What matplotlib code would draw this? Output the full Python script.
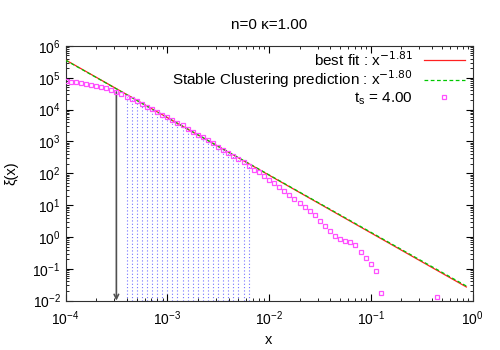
import numpy as np
import matplotlib
matplotlib.use("Agg")
import matplotlib.pyplot as plt

# ---- data ----
title = "n=0 \u03ba=1.00"
# log10 of x for the measured points (20 points per decade)
log_x = [-4 + i / 20 for i in range(63)] + [-4 + 73 / 20]
# log10 of xi(x) at those points
log_xi = [4.909, 4.877, 4.858, 4.836, 4.814, 4.783, 4.751, 4.711, 4.670, 4.601,
          4.553, 4.481, 4.406, 4.343, 4.270, 4.176, 4.091, 4.019, 3.925, 3.840,
          3.777, 3.679, 3.585, 3.500, 3.399, 3.305, 3.211, 3.129, 3.044, 2.959,
          2.833, 2.739, 2.645, 2.557, 2.447, 2.346, 2.242, 2.116, 2.031, 1.925,
          1.802, 1.682, 1.560, 1.440, 1.314, 1.189, 1.063, 0.937, 0.811, 0.679,
          0.503, 0.333, 0.182, 0.035, -0.075, -0.142, -0.164, -0.264, -0.487, -0.676,
          -0.846, -1.069, -1.752, -1.884]
fit_slope = -1.81
fit_logamp = -1.68
sc_slope = -1.80
sc_logamp = -1.65
fit_xrange = [1e-4, 0.87]
fit_first, fit_last = 12, 36   # indices of the points inside the fit range
arrow_index = 10               # point marked by the arrow

x = 10 ** np.array(log_x)
xi = 10 ** np.array(log_xi)

fig = plt.figure(figsize=(5, 3.5), dpi=100)
plt.rcParams['font.family'] = ['Liberation Sans', 'DejaVu Sans']
ax = fig.add_axes([0.131, 0.141, 0.814, 0.728])
ax.set_xscale('log')
ax.set_yscale('log')
ax.set_xlim(1e-4, 1)
ax.set_ylim(1e-2, 1e6)

xf = np.array(fit_xrange)
ax.plot(xf, 10 ** fit_logamp * xf ** fit_slope, color='#ff2020', lw=0.9,
        label=r'best fit : x$^{-1.81}$', zorder=3)
ax.plot(xf, 10 ** sc_logamp * xf ** sc_slope, color='#00c800', lw=0.9,
        ls=(0, (3, 2)), label=r'Stable Clustering prediction : x$^{-1.80}$', zorder=3)

# impulses in the fit range
ax.vlines(x[fit_first:fit_last + 1], 1e-2, xi[fit_first:fit_last + 1],
          colors='#5050ff', linestyles=(0, (1, 2)), lw=0.8, alpha=0.8, zorder=1)

ax.plot(x, xi, ls='none', marker='s', ms=3.3, mfc='none', mec='#ff50ff', mew=0.9,
        label=r't$_\mathregular{s}$ = 4.00', zorder=4)

# arrow
ax.annotate('', xy=(x[arrow_index], 1e-2), xytext=(x[arrow_index], xi[arrow_index]),
            arrowprops=dict(arrowstyle='->', color='#505050', lw=1.2,
                            shrinkA=0, shrinkB=0, mutation_scale=8), zorder=2)

ax.tick_params(which='both', direction='in', top=True, right=True, labelsize=10)
ax.tick_params(which='major', length=5)
ax.tick_params(which='minor', length=2.5)
ax.tick_params(axis='x', pad=6)
for s in ax.spines.values():
    s.set_color('#303030')
ax.set_xlabel('x', fontsize=10.5, labelpad=4)
ax.set_ylabel('\u03be(x)', fontsize=10.5, labelpad=10)
ax.set_title(title, fontsize=11, pad=12)

leg = ax.legend(loc='upper right', bbox_to_anchor=(0.985, 0.99), frameon=False,
                markerfirst=False, fontsize=11, handlelength=2.7, handletextpad=0.7,
                labelspacing=0.0, borderpad=0.1, borderaxespad=0)

fig.savefig('out.png', dpi=100)
